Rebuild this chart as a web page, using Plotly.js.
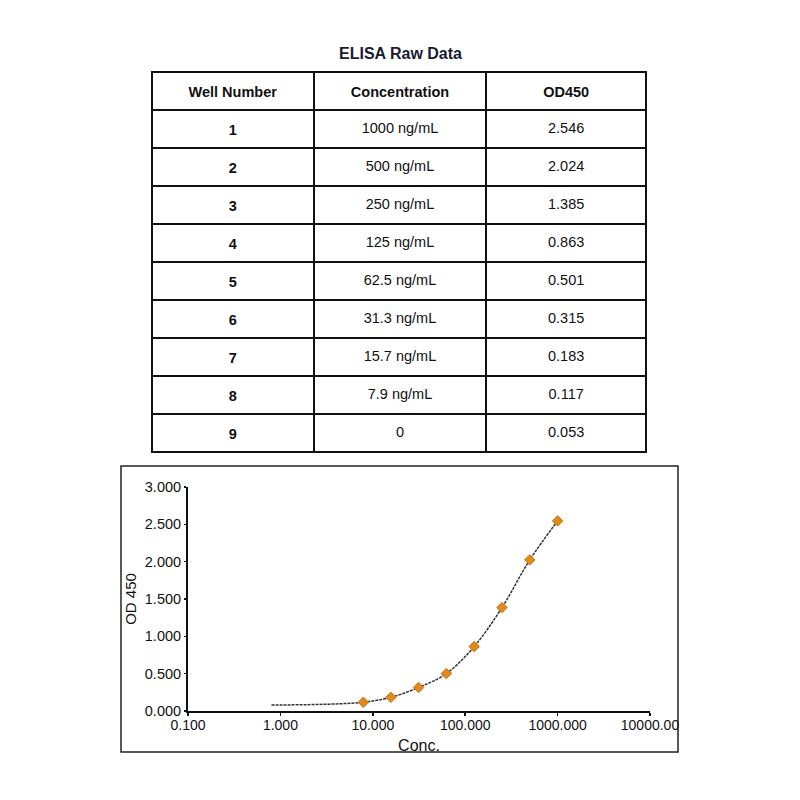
<!DOCTYPE html>
<html>
<head>
<meta charset="utf-8">
<script src="https://cdn.plot.ly/plotly-3.0.1.min.js"></script>
<style>
  body { margin: 0; background: #fff; }
  #chart { width: 800px; height: 800px; }
</style>
</head>
<body>
<div id="chart"></div>
<script>
// table columns
const headers = ['Well Number', 'Concentration', 'OD450'];
const wellNumbers = ['1', '2', '3', '4', '5', '6', '7', '8', '9'];
const concLabels = ['1000 ng/mL', '500 ng/mL', '250 ng/mL', '125 ng/mL', '62.5 ng/mL',
    '31.3 ng/mL', '15.7 ng/mL', '7.9 ng/mL', '0'];
const odLabels = ['2.546', '2.024', '1.385', '0.863', '0.501', '0.315', '0.183', '0.117', '0.053'];

// standard points (well 9 has zero conc, not shown on log axis)
const stdConc = [1000, 500, 250, 125, 62.5, 31.3, 15.7, 7.9];
const stdOD = [2.546, 2.024, 1.385, 0.863, 0.501, 0.315, 0.183, 0.117];

// fitted curve
const fitConc = [0.8, 2, 4, 7.9, 15.7, 31.3, 62.5, 125, 250, 500, 1000];
const fitOD = [0.08, 0.085, 0.095, 0.117, 0.183, 0.315, 0.501, 0.863, 1.385, 2.024, 2.546];

const xTickVals = [0.1, 1, 10, 100, 1000, 10000];
const xTickText = ['0.100', '1.000', '10.000', '100.000', '1000.000', '10000.00'];

const font = 'Arial, "Liberation Sans", sans-serif';

// leave a few px spare under the last row so its border is not clipped
const tableX = [152 / 800, 647 / 800];
const tableY = [1 - 456 / 800, 1 - 72 / 800];
const colW = [162, 173, 160];
const blank = a => a.map(() => '');

// grid of the table (lines only)
var tableGrid = {
    type: 'table',
    domain: { x: tableX, y: tableY },
    columnwidth: colW,
    header: {
        values: blank(headers),
        height: 38,
        line: { color: '#111', width: 2 },
        fill: { color: '#fff' }
    },
    cells: {
        values: [blank(wellNumbers), blank(concLabels), blank(odLabels)],
        height: 38,
        line: { color: '#111', width: 2 },
        fill: { color: '#fff' }
    }
};

// text of the table, nudged down so it sits mid-row
var nudge = 4 / 800;
var tableText = {
    type: 'table',
    domain: { x: tableX, y: [tableY[0] - nudge, tableY[1] - nudge] },
    columnwidth: colW,
    header: {
        values: headers.map(h => '<b>' + h + '</b>'),
        align: 'center',
        height: 38,
        line: { color: 'rgba(0,0,0,0)', width: 0 },
        fill: { color: 'rgba(0,0,0,0)' },
        font: { family: font, size: 14.5, color: '#111' }
    },
    cells: {
        values: [wellNumbers.map(w => '<b>' + w + '</b>'), concLabels, odLabels],
        align: 'center',
        height: 38,
        line: { color: 'rgba(0,0,0,0)', width: 0 },
        fill: { color: 'rgba(0,0,0,0)' },
        font: { family: font, size: 14.5, color: '#111' }
    }
};

var fit = {
    x: fitConc,
    y: fitOD,
    type: 'scatter',
    mode: 'lines',
    line: { color: '#333', width: 1.5, dash: '3px,1px', shape: 'spline' },
    hoverinfo: 'skip',
    showlegend: false
};

var points = {
    x: stdConc,
    y: stdOD,
    type: 'scatter',
    mode: 'markers',
    marker: { symbol: 'diamond', size: 8, color: '#e3881b', line: { color: '#c8700c', width: 1 } },
    showlegend: false
};

var layout = {
    width: 800,
    height: 800,
    margin: { l: 0, r: 0, t: 0, b: 0 },
    paper_bgcolor: '#fff',
    plot_bgcolor: '#fff',
    font: { family: font, color: '#111' },
    xaxis: {
        type: 'log',
        domain: [188 / 800, 650 / 800],
        range: [-1, 4],
        tickvals: xTickVals,
        ticktext: xTickText,
        ticks: 'outside',
        ticklen: 3,
        tickwidth: 1.5,
        tickcolor: '#111',
        ticklabelstandoff: -3,
        showline: true,
        linecolor: '#111',
        linewidth: 2,
        showgrid: false,
        zeroline: false,
        tickfont: { size: 14, color: '#111' },
        title: { text: 'Conc.', font: { size: 16, color: '#111' }, standoff: 8 }
    },
    yaxis: {
        domain: [1 - 711 / 800, 1 - 487 / 800],
        range: [0, 3],
        dtick: 0.5,
        tickformat: '.3f',
        ticks: 'outside',
        ticklen: 2,
        tickwidth: 1.5,
        tickcolor: '#111',
        ticklabelstandoff: 0,
        showline: true,
        linecolor: '#111',
        linewidth: 2,
        showgrid: false,
        zeroline: false,
        tickfont: { size: 14.5, color: '#111' },
        title: { text: 'OD 450', font: { size: 15, color: '#111' }, standoff: 5 }
    },
    annotations: [{
        text: '<b>ELISA Raw Data</b>',
        xref: 'paper', yref: 'paper',
        x: 0.5, y: 1 - 53 / 800,
        yanchor: 'middle',
        showarrow: false,
        font: { size: 16, color: '#1a1a33' }
    }],
    shapes: [{
        type: 'rect',
        xref: 'paper', yref: 'paper',
        x0: 121 / 800, x1: 678 / 800,
        y0: 1 - 752 / 800, y1: 1 - 466 / 800,
        line: { color: '#222', width: 1.5 }
    }]
};

Plotly.newPlot('chart', [tableGrid, tableText, fit, points], layout, { displayModeBar: false, staticPlot: true });
</script>
</body>
</html>
